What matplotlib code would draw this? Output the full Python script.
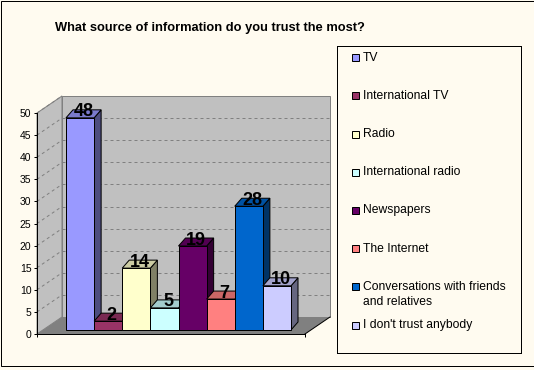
import matplotlib
matplotlib.use("Agg")
import matplotlib.pyplot as plt
from matplotlib.patches import Polygon, Rectangle
from matplotlib.colors import to_rgb
import numpy as np

plt.rcParams['font.family'] = ['Liberation Sans', 'DejaVu Sans']

title = "What source of information do you trust the most?"
sources = ["TV", "International TV", "Radio", "International radio", "Newspapers",
           "The Internet", "Conversations with friends\nand relatives", "I don't trust anybody"]
counts = [48, 2, 14, 5, 19, 7, 28, 10]
colors = ['#9999FF', '#993366', '#FFFFCC', '#CCFFFF', '#660066', '#FF8080', '#0066CC', '#CCCCFF']
yticks = list(range(0, 51, 5))

bg = '#FFFBF0'
W, H = 534, 370
fig = plt.figure(figsize=(W / 100, H / 100), dpi=100, facecolor=bg)

# front axis plane: x 37..305 px, value 0 at y=334, 50 at y=113
ax = fig.add_axes([37 / W, (H - 334) / H, 268 / W, 221 / H])
ax.set_facecolor('none')
ux = 225 / 8.0           # px per category
uy = 221 / 50.0          # px per unit
xl, xr = -23 / ux, 245 / ux
ax.set_xlim(xl, xr)
ax.set_ylim(0, 50)

def px(dx, dy):
    return dx / ux, dy / uy

bx, by = px(25, 17)   # back wall offset
ox, oy = px(6, 4)     # bar plane offset
dx, dy = px(7, 8)     # bar depth

gray = '#C0C0C0'
dark = '#808080'
lw = 0.72

# walls and floor
ax.add_patch(Polygon([(xl + bx, by), (xr + bx, by), (xr + bx, 50 + by), (xl + bx, 50 + by)],
                     closed=True, fc=gray, ec=dark, lw=lw, clip_on=False, zorder=0))
ax.add_patch(Polygon([(xl, 0), (xl, 50), (xl + bx, 50 + by), (xl + bx, by)],
                     closed=True, fc=gray, ec=dark, lw=lw, clip_on=False, zorder=0))
for v in yticks[1:-1]:
    ax.plot([xl + bx, xr + bx], [v + by, v + by], color=dark, lw=lw,
            ls=(0, (3, 3)), clip_on=False, zorder=1)
for v in yticks[1:]:
    ax.plot([xl, xl + bx], [v, v + by], color=dark, lw=lw,
            ls=(0, (3, 3)), clip_on=False, zorder=1)
ax.add_patch(Polygon([(xl, 0), (xr, 0), (xr + bx, by), (xl + bx, by)],
                     closed=True, fc=dark, ec='none', lw=0, clip_on=False, zorder=1))
ax.plot([xr, xr + bx], [0, by], color='black', lw=lw, clip_on=False, zorder=2)

# 3D bars
for i, (v, c) in enumerate(zip(counts, colors)):
    rgb = np.array(to_rgb(c))
    x0, x1 = i + ox, i + 1 + ox
    y0, y1 = oy, v + oy
    ax.add_patch(Polygon([(x1, y0), (x1 + dx, y0 + dy), (x1 + dx, y1 + dy), (x1, y1)],
                         closed=True, fc=rgb * 0.5, ec='black', lw=lw, clip_on=False, zorder=3))
    ax.add_patch(Polygon([(x0, y1), (x1, y1), (x1 + dx, y1 + dy), (x0 + dx, y1 + dy)],
                         closed=True, fc=rgb * 0.8, ec='black', lw=lw, clip_on=False, zorder=3))
    ax.bar(x0, v, width=1, bottom=y0, align='edge', color=c, edgecolor='black',
           lw=lw, clip_on=False, zorder=3)

for i, v in enumerate(counts):
    ax.annotate(str(v), (i + 0.5 + ox, v + oy), xytext=(3.5, 1.5), textcoords='offset pixels',
                ha='center', va='baseline', fontsize=13, fontweight='bold', zorder=5)

for s in ['top', 'right']:
    ax.spines[s].set_visible(False)
for s in ['left', 'bottom']:
    ax.spines[s].set_color('black')
    ax.spines[s].set_linewidth(lw)
    ax.spines[s].set_zorder(4)
ax.set_yticks(yticks)
ax.tick_params(axis='y', length=2.5, width=lw, labelsize=7.5, pad=1.5)
ax.set_xticks([xl, xr])
ax.set_xticklabels([])
ax.tick_params(axis='x', length=2.5, width=lw)

fig.text(55 / W, 1 - 28 / H, title, ha='left', va='center', fontsize=9.3, fontweight='bold')

# legend box
lax = fig.add_axes([337 / W, (H - 353) / H, 184 / W, 307 / H])
lax.set_facecolor(bg)
lax.set_xlim(0, 184)
lax.set_ylim(307, 0)
lax.set_xticks([])
lax.set_yticks([])
for s in lax.spines.values():
    s.set_linewidth(lw)
    s.set_color('black')
for i, (lab, c) in enumerate(zip(sources, colors)):
    yc = 11.7 + 38.2 * i
    lax.add_patch(Rectangle((15, yc - 3.5), 7, 7, fc=c, ec='black', lw=lw))
    for j, line in enumerate(lab.split('\n')):
        lax.text(26, yc + 15 * j, line, ha='left', va='center', fontsize=8.7)

# outer frame
fig.patches.append(Rectangle((0.5 / W, (H - 365.5) / H), 533 / W, 365 / H,
                             transform=fig.transFigure, fill=False, ec='black', lw=lw))

fig.savefig('out.png', dpi=100, facecolor=bg)
